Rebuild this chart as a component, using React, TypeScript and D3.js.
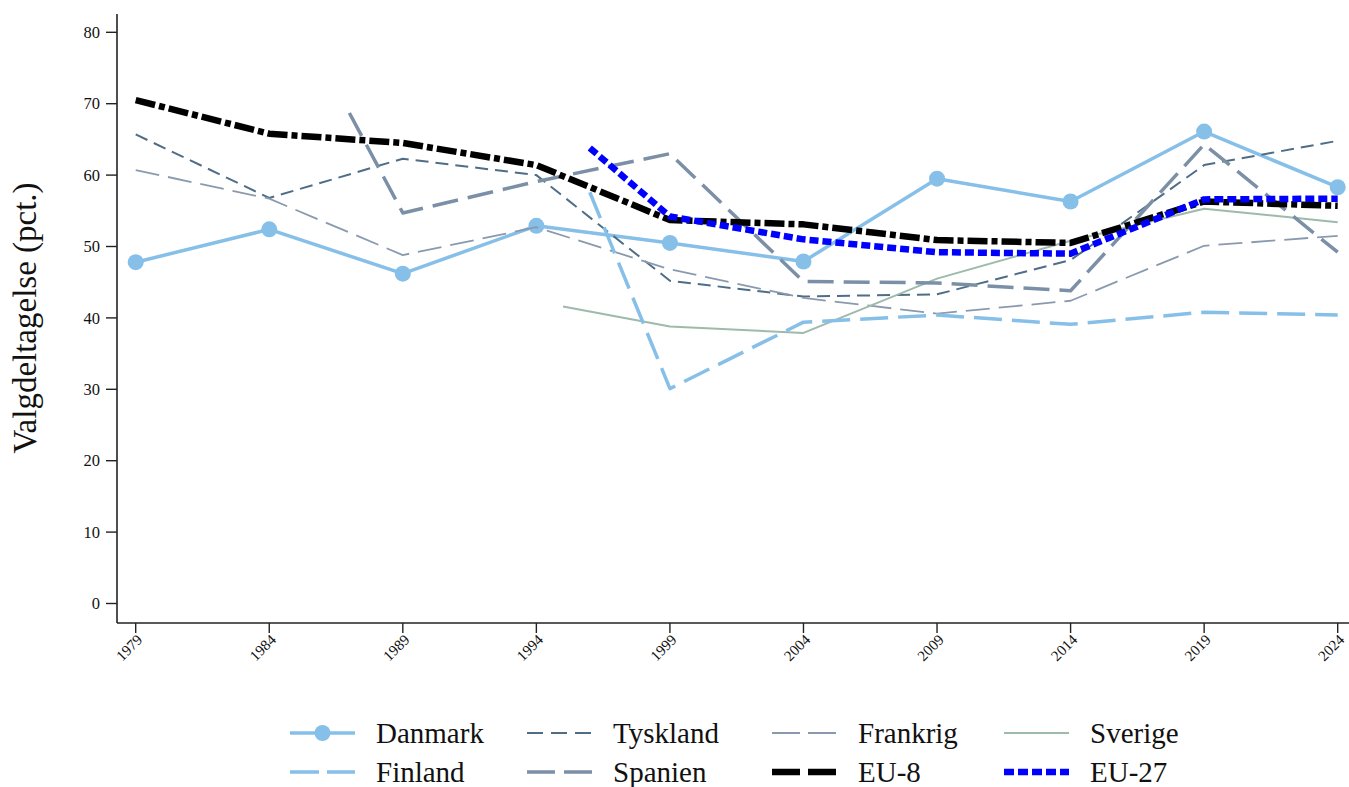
import React from "react";
import * as d3 from "d3";

const years = [1979, 1984, 1989, 1994, 1999, 2004, 2009, 2014, 2019, 2024];
const laterYears = [1999, 2004, 2009, 2014, 2019, 2024];

const danmark = [47.8, 52.4, 46.2, 52.9, 50.5, 47.9, 59.5, 56.3, 66.1, 58.3];
const tyskland = [65.7, 56.8, 62.3, 60.0, 45.2, 43.0, 43.3, 48.1, 61.4, 64.8];
const frankrig = [60.7, 56.7, 48.8, 52.7, 46.8, 42.8, 40.6, 42.4, 50.1, 51.5];
const eu8 = [70.5, 65.8, 64.5, 61.4, 53.7, 53.1, 50.9, 50.5, 56.3, 55.7];

const sverigeYears = [1995, ...laterYears];
const sverige = [41.6, 38.8, 37.9, 45.5, 50.8, 55.3, 53.4];
const finlandYears = [1996, ...laterYears];
const finland = [57.6, 30.1, 39.4, 40.4, 39.1, 40.8, 40.4];
const spanienYears = [1987, 1989, 1994, ...laterYears];
const spanien = [68.7, 54.7, 59.1, 63.0, 45.1, 44.9, 43.8, 64.3, 49.2];
const eu27Years = [1996, ...laterYears];
const eu27 = [63.8, 54.2, 51.0, 49.2, 49.0, 56.6, 56.7];

const yTicks = [0, 10, 20, 30, 40, 50, 60, 70, 80];

type S = {
  name: string; xs: number[]; ys: number[]; color: string; width: number;
  dash?: string; legendDash?: string; marker?: boolean;
};

const series: S[] = [
  { name: "Danmark", xs: years, ys: danmark, color: "#86BFE8", width: 3.5, marker: true },
  { name: "Tyskland", xs: years, ys: tyskland, color: "#4F6D86", width: 2, dash: "13 7", legendDash: "16 8" },
  { name: "Frankrig", xs: years, ys: frankrig, color: "#8A9AAE", width: 1.8, dash: "24 9", legendDash: "28 8" },
  { name: "Sverige", xs: sverigeYears, ys: sverige, color: "#9DBAAB", width: 2 },
  { name: "Finland", xs: finlandYears, ys: finland, color: "#86BFE8", width: 3.5, dash: "28 10", legendDash: "29 8" },
  { name: "Spanien", xs: spanienYears, ys: spanien, color: "#7B8FA6", width: 3.5, dash: "26 10", legendDash: "28 9" },
  { name: "EU-8", xs: years, ys: eu8, color: "#000000", width: 6.5, dash: "20 4 6 4", legendDash: "28 8" },
  { name: "EU-27", xs: eu27Years, ys: eu27, color: "#0000FF", width: 6.5, dash: "9 4", legendDash: "10 4" },
];

const FONT = "'Liberation Serif', 'Times New Roman', serif";

export default function App() {
  const W = 1349, H = 787;
  const axisX = 117, axisY = 623, axisTop = 14, axisRight = 1349;
  const x = d3.scaleLinear().domain([1979, 2024]).range([135.7, 1337.7]);
  const y = d3.scaleLinear().domain([0, 80]).range([603.5, 32.3]);

  const legendCols = [290, 527, 772, 1004];
  const legendRows = [733, 772];

  return (
    <svg width={W} height={H} style={{ position: "absolute", left: 0, top: 0, background: "#fff" }}
      fontFamily={FONT}>
      <rect width={W} height={H} fill="#fff" />
      {/* axes */}
      <line x1={axisX} x2={axisX} y1={axisTop} y2={axisY} stroke="#222" strokeWidth={1.6} />
      <line x1={axisX} x2={axisRight} y1={axisY} y2={axisY} stroke="#222" strokeWidth={1.6} />
      {yTicks.map((t) => (
        <g key={t}>
          <line x1={axisX - 11} x2={axisX} y1={y(t)} y2={y(t)} stroke="#222" strokeWidth={1.4} />
          <text x={axisX - 17} y={y(t)} dy="0.35em" textAnchor="end" fontSize={16.5} fill="#111">{t}</text>
        </g>
      ))}
      {years.map((t) => (
        <g key={t}>
          <line x1={x(t)} x2={x(t)} y1={axisY} y2={axisY + 10} stroke="#222" strokeWidth={1.4} />
          <text transform={`translate(${x(t) + 4},${axisY + 14}) rotate(-45)`} textAnchor="end"
            dy="0.35em" fontSize={15} fill="#111">{t}</text>
        </g>
      ))}
      <text transform={`translate(36,318) rotate(-90)`} textAnchor="middle" fontSize={33} fill="#111">
        Valgdeltagelse (pct.)
      </text>

      {/* lines */}
      {series.map((s) => {
        const pts = s.xs.map((xv, i) => [xv, s.ys[i]] as [number, number]);
        const path = d3.line<[number, number]>().x((d) => x(d[0])).y((d) => y(d[1]))(pts) || "";
        return (
          <g key={s.name}>
            <path d={path} fill="none" stroke={s.color} strokeWidth={s.width}
              strokeDasharray={s.dash} strokeLinejoin="round" />
            {s.marker && pts.map((p, i) => (
              <circle key={i} cx={x(p[0])} cy={y(p[1])} r={8} fill={s.color} />
            ))}
          </g>
        );
      })}

      {/* legend */}
      {series.map((s, i) => {
        const cx = legendCols[i % 4];
        const cy = legendRows[Math.floor(i / 4)];
        return (
          <g key={s.name}>
            <line x1={cx} x2={cx + 65} y1={cy} y2={cy} stroke={s.color} strokeWidth={s.width}
              strokeDasharray={s.legendDash} />
            {s.marker && <circle cx={cx + 32.5} cy={cy} r={8} fill={s.color} />}
            <text x={cx + 86} y={cy} dy="0.35em" fontSize={29} fill="#111">{s.name}</text>
          </g>
        );
      })}
    </svg>
  );
}
